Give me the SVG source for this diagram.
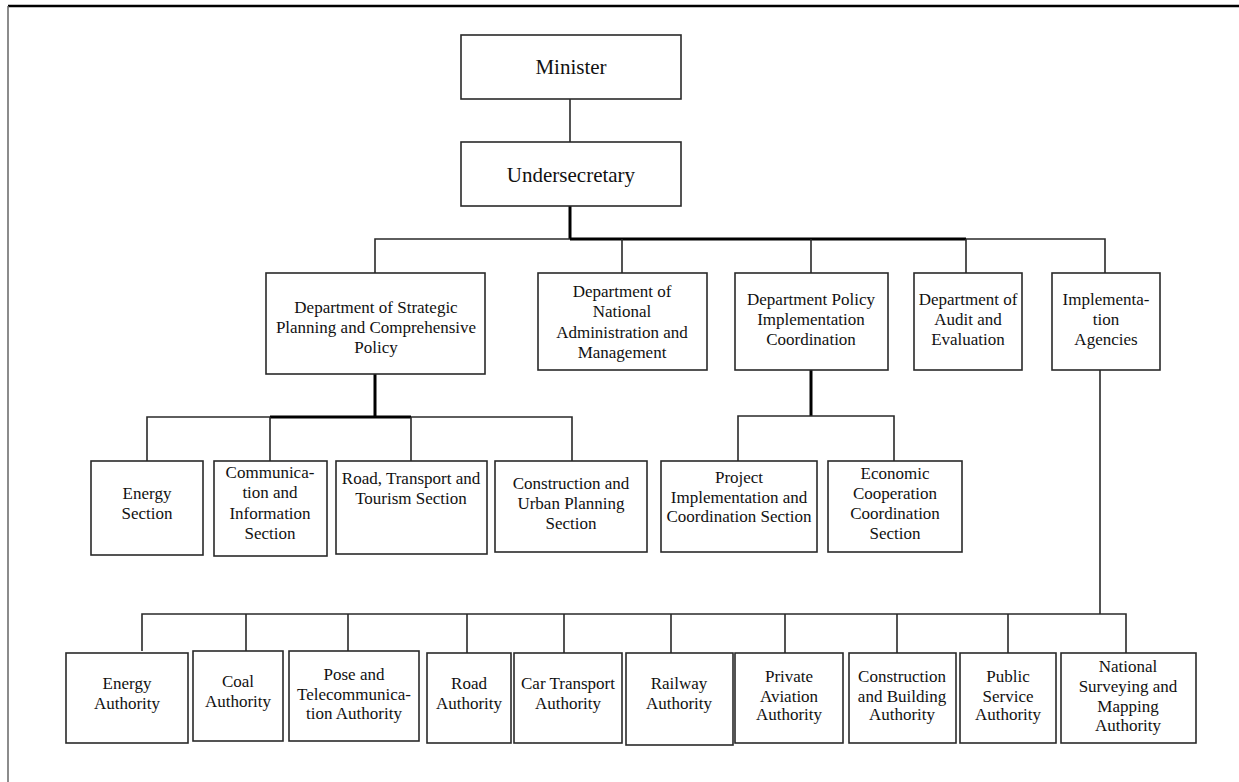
<svg xmlns="http://www.w3.org/2000/svg" width="1239" height="782" viewBox="0 0 1239 782">
<style>
.b{fill:#fff;stroke:#2a2a2a;stroke-width:1.6}
.t{font-family:"Liberation Serif","Times New Roman",serif;font-size:17px;fill:#111;text-anchor:middle}
.tl{font-size:21px}
.c{fill:none;stroke:#2a2a2a;stroke-width:1.6}
.k{fill:none;stroke:#000;stroke-width:3}
</style>
<rect width="1239" height="782" fill="#fff"/>
<g id="frame">
<line x1="8" y1="6" x2="1239" y2="6" stroke="#000" stroke-width="2.5"/>
<line x1="8" y1="6" x2="8" y2="782" stroke="#666" stroke-width="1.5"/>
</g>
<g id="connectors">
<path class="c" d="M570 99V142"/>
<path class="k" d="M570 206V239"/>
<path class="c" d="M375 273V239H570"/>
<path class="k" d="M570 239H966"/>
<path class="c" d="M966 239H1105V273M622 239V273M811 239V273M966 239V273"/>
<path class="k" d="M375 374V417M270 417H411"/>
<path class="c" d="M147 461V417H270M411 417H572V461M270 417V461M411 417V461"/>
<path class="k" d="M811 370V416"/>
<path class="c" d="M738 461V416H894V461"/>
<path class="c" d="M1100 370V614M142 651V614H1126V653M246 614V651M348 614V651M467 614V653M564 614V653M671 614V653M785 614V653M897 614V653M1008 614V653"/>
</g>
<g id="minister"><rect class="b" x="461" y="35" width="220" height="64"/><text class="t tl" x="571" y="74">Minister</text></g>
<g id="undersecretary"><rect class="b" x="461" y="142" width="220" height="64"/><text class="t tl" x="571" y="182">Undersecretary</text></g>
<g id="dept-strategic"><rect class="b" x="266" y="273" width="219" height="101"/><text class="t" x="376"><tspan x="376" y="313">Department of Strategic</tspan><tspan x="376" y="333">Planning and Comprehensive</tspan><tspan x="376" y="353">Policy</tspan></text></g>
<g id="dept-national"><rect class="b" x="538" y="273" width="169" height="97"/><text class="t" x="622"><tspan x="622" y="297">Department of</tspan><tspan x="622" y="317">National</tspan><tspan x="622" y="338">Administration and</tspan><tspan x="622" y="358">Management</tspan></text></g>
<g id="dept-policy"><rect class="b" x="735" y="273" width="153" height="97"/><text class="t" x="811"><tspan x="811" y="305">Department Policy</tspan><tspan x="811" y="325">Implementation</tspan><tspan x="811" y="345">Coordination</tspan></text></g>
<g id="dept-audit"><rect class="b" x="914" y="273" width="108" height="97"/><text class="t" x="968"><tspan x="968" y="305">Department of</tspan><tspan x="968" y="325">Audit and</tspan><tspan x="968" y="345">Evaluation</tspan></text></g>
<g id="impl-agencies"><rect class="b" x="1052" y="273" width="108" height="97"/><text class="t" x="1106"><tspan x="1106" y="305">Implementa-</tspan><tspan x="1106" y="325">tion</tspan><tspan x="1106" y="345">Agencies</tspan></text></g>
<g id="energy-section"><rect class="b" x="91" y="461" width="112" height="94"/><text class="t" x="147"><tspan x="147" y="499">Energy</tspan><tspan x="147" y="519">Section</tspan></text></g>
<g id="comm-section"><rect class="b" x="214" y="461" width="113" height="95"/><text class="t" x="270"><tspan x="270" y="478">Communica-</tspan><tspan x="270" y="498">tion and</tspan><tspan x="270" y="519">Information</tspan><tspan x="270" y="539">Section</tspan></text></g>
<g id="road-section"><rect class="b" x="336" y="461" width="151" height="93"/><text class="t" x="411"><tspan x="411" y="484">Road, Transport and</tspan><tspan x="411" y="504">Tourism Section</tspan></text></g>
<g id="construction-section"><rect class="b" x="495" y="461" width="152" height="91"/><text class="t" x="571"><tspan x="571" y="489">Construction and</tspan><tspan x="571" y="509">Urban Planning</tspan><tspan x="571" y="529">Section</tspan></text></g>
<g id="project-section"><rect class="b" x="661" y="461" width="156" height="91"/><text class="t" x="739"><tspan x="739" y="483">Project</tspan><tspan x="739" y="503">Implementation and</tspan><tspan x="739" y="522">Coordination Section</tspan></text></g>
<g id="economic-section"><rect class="b" x="828" y="461" width="134" height="91"/><text class="t" x="895"><tspan x="895" y="479">Economic</tspan><tspan x="895" y="499">Cooperation</tspan><tspan x="895" y="519">Coordination</tspan><tspan x="895" y="539">Section</tspan></text></g>
<g id="energy-authority"><rect class="b" x="66" y="653" width="122" height="90"/><text class="t" x="127"><tspan x="127" y="689">Energy</tspan><tspan x="127" y="709">Authority</tspan></text></g>
<g id="coal-authority"><rect class="b" x="193" y="651" width="90" height="90"/><text class="t" x="238"><tspan x="238" y="687">Coal</tspan><tspan x="238" y="707">Authority</tspan></text></g>
<g id="pose-authority"><rect class="b" x="289" y="651" width="130" height="90"/><text class="t" x="354"><tspan x="354" y="680">Pose and</tspan><tspan x="354" y="700">Telecommunica-</tspan><tspan x="354" y="719">tion Authority</tspan></text></g>
<g id="road-authority"><rect class="b" x="427" y="653" width="84" height="90"/><text class="t" x="469"><tspan x="469" y="689">Road</tspan><tspan x="469" y="709">Authority</tspan></text></g>
<g id="car-authority"><rect class="b" x="514" y="653" width="108" height="90"/><text class="t" x="568"><tspan x="568" y="689">Car Transport</tspan><tspan x="568" y="709">Authority</tspan></text></g>
<g id="railway-authority"><rect class="b" x="626" y="653" width="107" height="92"/><text class="t" x="679"><tspan x="679" y="689">Railway</tspan><tspan x="679" y="709">Authority</tspan></text></g>
<g id="aviation-authority"><rect class="b" x="735" y="653" width="108" height="90"/><text class="t" x="789"><tspan x="789" y="682">Private</tspan><tspan x="789" y="702">Aviation</tspan><tspan x="789" y="720">Authority</tspan></text></g>
<g id="building-authority"><rect class="b" x="849" y="653" width="107" height="90"/><text class="t" x="902"><tspan x="902" y="682">Construction</tspan><tspan x="902" y="702">and Building</tspan><tspan x="902" y="720">Authority</tspan></text></g>
<g id="public-authority"><rect class="b" x="960" y="653" width="96" height="90"/><text class="t" x="1008"><tspan x="1008" y="682">Public</tspan><tspan x="1008" y="702">Service</tspan><tspan x="1008" y="720">Authority</tspan></text></g>
<g id="surveying-authority"><rect class="b" x="1061" y="653" width="135" height="90"/><text class="t" x="1128"><tspan x="1128" y="672">National</tspan><tspan x="1128" y="692">Surveying and</tspan><tspan x="1128" y="712">Mapping</tspan><tspan x="1128" y="731">Authority</tspan></text></g>
</svg>
